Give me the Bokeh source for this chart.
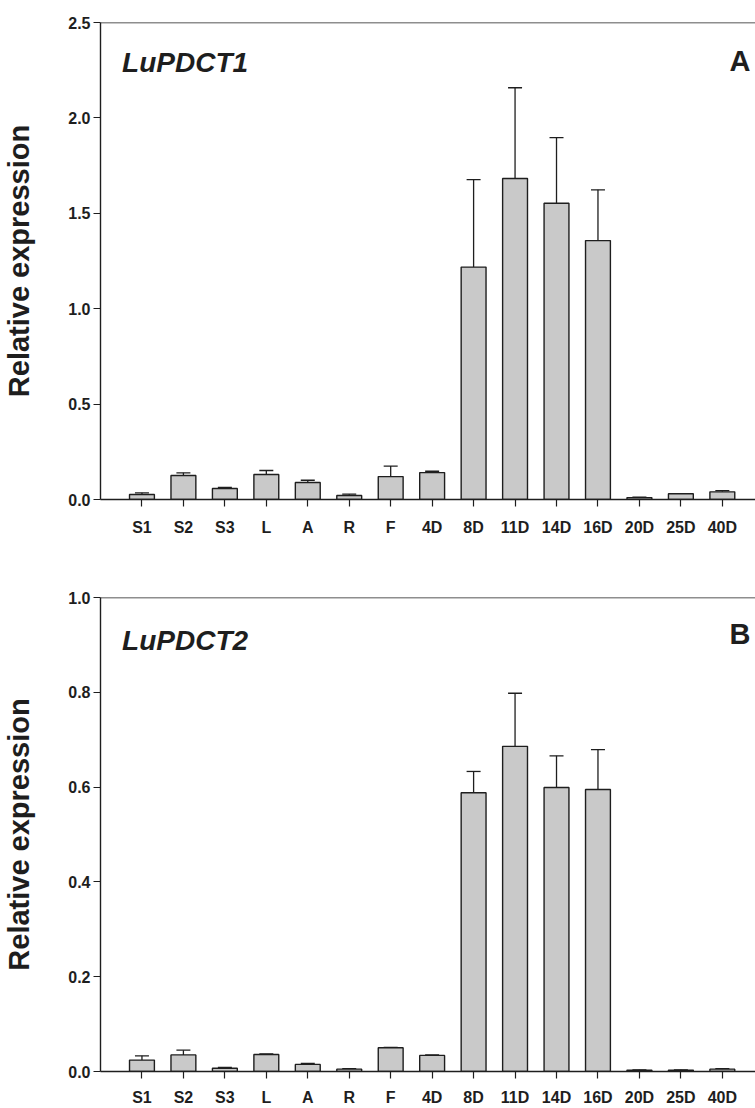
from bokeh.plotting import figure
from bokeh.layouts import column
from bokeh.models import Range1d, FixedTicker, Whisker, TeeHead, ColumnDataSource, Span, Label, NumeralTickFormatter
from bokeh.embed import file_html
from bokeh.resources import INLINE

categories = ["S1", "S2", "S3", "L", "A", "R", "F", "4D", "8D", "11D", "14D", "16D", "20D", "25D", "40D"]

# Panel A: LuPDCT1
lupdct1_mean = [0.026, 0.126, 0.058, 0.131, 0.089, 0.021, 0.120, 0.141, 1.218, 1.682, 1.553, 1.357, 0.010, 0.030, 0.040]
lupdct1_err = [0.009, 0.014, 0.006, 0.021, 0.012, 0.007, 0.055, 0.007, 0.459, 0.476, 0.344, 0.266, 0.002, 0.001, 0.007]

# Panel B: LuPDCT2
lupdct2_mean = [0.024, 0.035, 0.007, 0.036, 0.015, 0.005, 0.050, 0.034, 0.588, 0.686, 0.599, 0.595, 0.003, 0.003, 0.005]
lupdct2_err = [0.009, 0.010, 0.0015, 0.001, 0.002, 0.001, 0.001, 0.001, 0.045, 0.112, 0.067, 0.084, 0.0005, 0.0005, 0.001]

yticks_a = [0.0, 0.5, 1.0, 1.5, 2.0, 2.5]
yticks_b = [0.0, 0.2, 0.4, 0.6, 0.8, 1.0]

FONT = "Liberation Sans"
BAR_FILL = "#c9c9c9"
INK = "#1e1e1e"


def make_panel(means, errs, yticks, gene, letter, height, top_border, bottom_border, standoff_x, gene_y, letter_y):
    xs = list(range(1, len(categories) + 1))
    ymax = yticks[-1]
    p = figure(width=755, height=height, output_backend="svg", toolbar_location=None,
               x_range=Range1d(0, 15.8), y_range=Range1d(0, ymax),
               min_border_left=98, min_border_right=0, min_border_top=top_border,
               min_border_bottom=bottom_border)
    p.grid.visible = False
    p.outline_line_color = None
    p.background_fill_color = "white"
    p.border_fill_color = "white"

    src = ColumnDataSource(dict(x=xs, top=means, upper=[m + e for m, e in zip(means, errs)]))
    p.vbar(x="x", top="top", bottom=0, width=0.6, source=src, fill_color=BAR_FILL,
           line_color=INK, line_width=1.4)
    w = Whisker(base="x", lower="top", upper="upper", source=src, dimension="height",
                line_color=INK, line_width=1.3, lower_head=None,
                upper_head=TeeHead(size=14, line_color=INK, line_width=1.3))
    p.add_layout(w)

    p.add_layout(Span(location=ymax, dimension="width", line_color=INK, line_width=1.3))

    # x axis
    xa = p.xaxis[0]
    xa.ticker = FixedTicker(ticks=xs)
    xa.major_label_overrides = {i: c for i, c in zip(xs, categories)}
    xa.minor_tick_line_color = None
    xa.major_tick_in = 0
    xa.major_tick_out = 7
    xa.major_tick_line_color = INK
    xa.major_tick_line_width = 1.2
    xa.axis_line_color = INK
    xa.axis_line_width = 1.4
    xa.major_label_text_font = FONT
    xa.major_label_text_font_style = "bold"
    xa.major_label_text_font_size = "16px"
    xa.major_label_text_color = INK
    xa.major_label_standoff = standoff_x

    # y axis
    ya = p.yaxis[0]
    ya.ticker = FixedTicker(ticks=yticks)
    ya.formatter = NumeralTickFormatter(format="0.0")
    ya.minor_tick_line_color = None
    ya.major_tick_in = 0
    ya.major_tick_out = 7
    ya.major_tick_line_color = INK
    ya.major_tick_line_width = 1.2
    ya.axis_line_color = INK
    ya.axis_line_width = 1.4
    ya.major_label_text_font = FONT
    ya.major_label_text_font_style = "bold"
    ya.major_label_text_font_size = "16px"
    ya.major_label_text_color = INK
    ya.major_label_standoff = 3
    ya.axis_label = "Relative expression"
    ya.axis_label_text_font = FONT
    ya.axis_label_text_font_style = "bold"
    ya.axis_label_text_font_size = "29px"
    ya.axis_label_text_color = INK
    ya.axis_label_standoff = 30

    p.add_layout(Label(x=0.52, y=gene_y, text=gene, text_font=FONT, text_font_style="bold italic",
                       text_font_size="28px", text_color=INK, text_baseline="alphabetic",
                       text_align="left"))
    p.add_layout(Label(x=15.68, y=letter_y, text=letter, text_font=FONT, text_font_style="bold",
                       text_font_size="29px", text_color=INK, text_baseline="alphabetic",
                       text_align="right"))
    return p


p1 = make_panel(lupdct1_mean, lupdct1_err, yticks_a, "LuPDCT1", "A", 548, 22, 49, 12, 2.29, 2.30)
p2 = make_panel(lupdct2_mean, lupdct2_err, yticks_b, "LuPDCT2", "B", 560, 49, 35, 10, 0.91, 0.924)

layout = column(p1, p2, spacing=0)
open("out.html", "w").write(file_html(layout, INLINE))
